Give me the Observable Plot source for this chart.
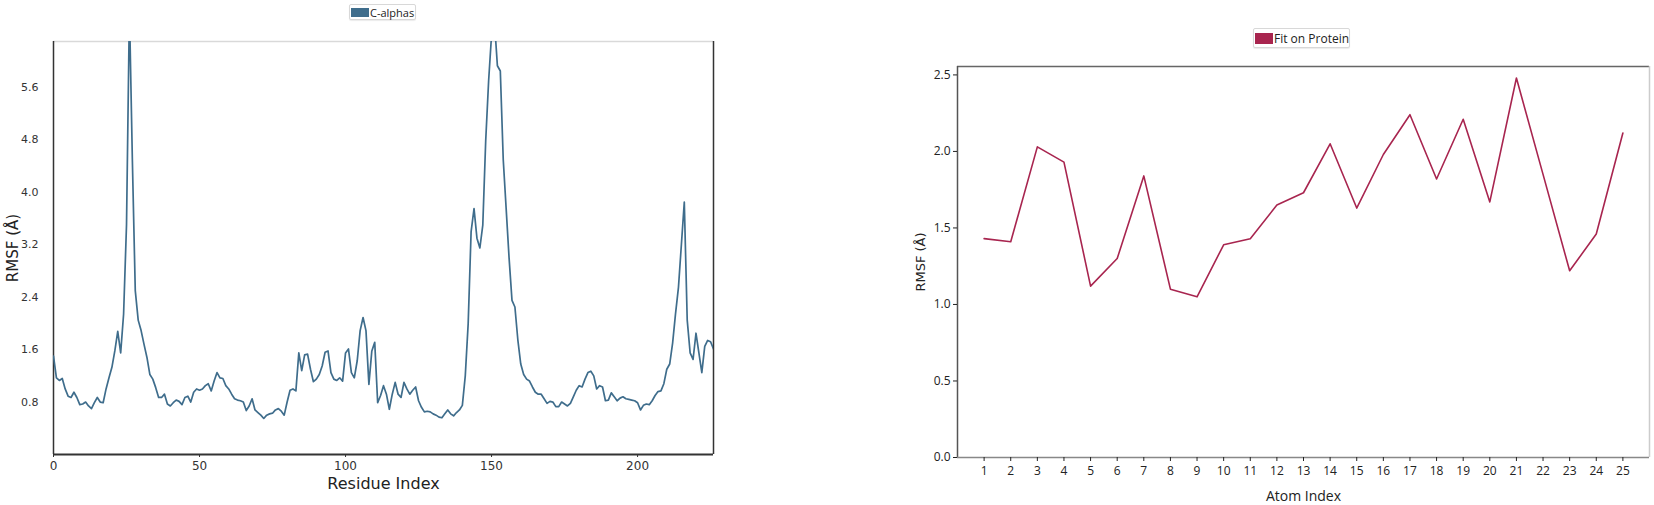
<!DOCTYPE html>
<html>
<head>
<meta charset="utf-8">
<script src="https://cdn.jsdelivr.net/npm/d3@7"></script>
<script src="https://cdn.jsdelivr.net/npm/@observablehq/plot@0.6"></script>
<style>
  html, body { margin: 0; padding: 0; background: #fff; }
  body { width: 1654px; height: 505px; position: relative; overflow: hidden; font-family: "Open Sans", sans-serif; }
  .panel { position: absolute; top: 0; }
  .legendRow { position: relative; }
  .legend { position: absolute; display: flex; align-items: center; white-space: nowrap; border: 1px solid #d8d8d8; border-radius: 2px; box-shadow: 0 1px 1px rgba(0,0,0,0.08); background: #fff; color: #222; box-sizing: border-box; }
  .swatch { display: inline-block; flex: none; }
</style>
</head>
<body>
<div id="left" class="panel" style="left:0px;width:730px;"></div>
<div id="right" class="panel" style="left:850px;width:804px;"></div>
<script>
// ---------- Left chart: C-alpha RMSF per residue ----------
const residueIndex = d3.range(0, 227);
const calphaRmsf = [
  1.50, 1.17, 1.13, 1.16, 1.00, 0.89, 0.87, 0.95, 0.87, 0.76,
  0.77, 0.80, 0.74, 0.70, 0.79, 0.87, 0.80, 0.79, 1.00, 1.17,
  1.33, 1.58, 1.88, 1.55, 2.14, 3.50, 6.80, 4.50, 2.50, 2.05,
  1.89, 1.68, 1.48, 1.22, 1.15, 1.02, 0.87, 0.87, 0.92, 0.77,
  0.74, 0.79, 0.83, 0.81, 0.76, 0.87, 0.89, 0.80, 0.95, 1.00,
  0.98, 1.00, 1.05, 1.08, 0.97, 1.12, 1.25, 1.17, 1.16, 1.05,
  1.00, 0.92, 0.85, 0.83, 0.82, 0.80, 0.67, 0.74, 0.85, 0.68,
  0.64, 0.60, 0.55, 0.60, 0.62, 0.63, 0.68, 0.70, 0.66, 0.60,
  0.80, 0.98, 1.00, 0.97, 1.55, 1.28, 1.52, 1.53, 1.30, 1.11,
  1.15, 1.22, 1.35, 1.56, 1.58, 1.25, 1.15, 1.13, 1.17, 1.12,
  1.55, 1.61, 1.25, 1.17, 1.43, 1.89, 2.09, 1.89, 1.07, 1.58,
  1.71, 0.79, 0.90, 1.05, 0.92, 0.69, 0.92, 1.10, 0.92, 0.87,
  1.10, 1.00, 0.92, 0.98, 1.03, 0.82, 0.72, 0.65, 0.66, 0.65,
  0.62, 0.60, 0.57, 0.56, 0.62, 0.68, 0.62, 0.59, 0.64, 0.68,
  0.75, 1.20, 2.00, 3.40, 3.75, 3.30, 3.15, 3.50, 4.79, 5.70,
  6.40, 6.60, 5.93, 5.85, 4.50, 3.75, 3.00, 2.35, 2.25, 1.75,
  1.38, 1.22, 1.15, 1.12, 1.03, 0.95, 0.92, 0.92, 0.85, 0.78,
  0.81, 0.80, 0.73, 0.73, 0.80, 0.77, 0.74, 0.78, 0.88, 0.98,
  1.05, 1.03, 1.15, 1.25, 1.27, 1.20, 1.00, 1.05, 1.03, 0.82,
  0.83, 0.94, 0.88, 0.82, 0.86, 0.88, 0.85, 0.84, 0.83, 0.82,
  0.79, 0.68, 0.75, 0.77, 0.76, 0.82, 0.90, 0.96, 0.97, 1.08,
  1.30, 1.38, 1.70, 2.15, 2.55, 3.20, 3.85, 2.05, 1.55, 1.45,
  1.85, 1.55, 1.25, 1.65, 1.74, 1.72, 1.61
];
const leftXDomain = [0, 226];
const leftYDomain = [0, 6.3];
const leftXTicks = [0, 50, 100, 150, 200];
const leftYTicks = [0.8, 1.6, 2.4, 3.2, 4.0, 4.8, 5.6];
const leftLegendLabel = "C-alphas";
const leftXLabel = "Residue Index";
const leftYLabel = "RMSF (Å)";
const leftColor = "#3f6d8c";

// ---------- Right chart: ligand atom RMSF ----------
const atomIndex = d3.range(1, 26);
const atomRmsf = [
  1.43, 1.41, 2.03, 1.93, 1.12, 1.30, 1.84, 1.10, 1.05, 1.39,
  1.43, 1.65, 1.73, 2.05, 1.63, 1.98, 2.24, 1.82, 2.21, 1.67,
  2.48, 1.85, 1.22, 1.46, 2.12
];
const rightXDomain = [0, 26];
const rightYDomain = [0, 2.555];
const rightXTicks = d3.range(1, 26);
const rightYTicks = [0, 0.5, 1.0, 1.5, 2.0, 2.5];
const rightLegendLabel = "Fit on Protein";
const rightXLabel = "Atom Index";
const rightYLabel = "RMSF (Å)";
const rightColor = "#a8254f";

// ---------- Build left ----------
const leftData = residueIndex.map((r, i) => ({res: r, rmsf: calphaRmsf[i]}));
const leftEl = document.getElementById("left");
const lRow = document.createElement("div");
lRow.className = "legendRow";
lRow.style.height = "22px";
lRow.innerHTML = `<div class="legend" style="left:349px;top:4px;width:67px;height:16px;font-size:11px;font-family:'Open Sans',sans-serif;">
  <span class="swatch" style="width:18px;height:9px;background:${leftColor};margin-left:1px;margin-right:1px;"></span><span>${leftLegendLabel}</span></div>`;
leftEl.appendChild(lRow);

const leftPlot = Plot.plot({
  width: 730,
  height: 483,
  marginLeft: 53,
  marginRight: 17,
  marginTop: 19,
  marginBottom: 51,
  style: {fontFamily: "'DejaVu Sans', sans-serif", fontSize: "11px", color: "#333", background: "#fff"},
  x: {domain: leftXDomain},
  y: {domain: leftYDomain},
  marks: [
    Plot.ruleY([leftYDomain[1]], {stroke: "#d9d9d9", strokeWidth: 1.5}),
    Plot.ruleX([leftXDomain[1]], {stroke: "#333", strokeWidth: 1.5}),
    Plot.ruleX([leftXDomain[0]], {stroke: "#333", strokeWidth: 1.5}),
    Plot.ruleY([leftYDomain[0]], {stroke: "#333", strokeWidth: 2}),
    Plot.line(leftData, {x: "res", y: "rmsf", stroke: leftColor, strokeWidth: 1.7, clip: true}),
    Plot.axisX({ticks: leftXTicks, tickSize: 3, tickPadding: 4, fontSize: 12, fill: "#333", label: null}),
    Plot.axisY({ticks: leftYTicks, tickFormat: d3.format(".1f"), tickSize: 0, tickPadding: 15, fontSize: 11, fill: "#333", label: null}),
    Plot.text([leftXLabel], {frameAnchor: "bottom", lineAnchor: "middle", dy: 29, fontSize: 16, fill: "#222"}),
    Plot.text([leftYLabel], {frameAnchor: "left", textAnchor: "middle", lineAnchor: "middle", rotate: -90, dx: -40, fontSize: 15, fill: "#222"})
  ]
});
leftEl.appendChild(leftPlot);

// ---------- Build right ----------
const rightData = atomIndex.map((a, i) => ({atom: a, rmsf: atomRmsf[i]}));
const rightEl = document.getElementById("right");
const rRow = document.createElement("div");
rRow.className = "legendRow";
rRow.style.height = "50px";
rRow.innerHTML = `<div class="legend" style="left:403px;top:28px;width:97px;height:20px;font-size:12px;font-family:'Open Sans',sans-serif;">
  <span class="swatch" style="width:18px;height:11px;background:${rightColor};margin-left:1px;margin-right:1px;"></span><span>${rightLegendLabel}</span></div>`;
rightEl.appendChild(rRow);

const rightPlot = Plot.plot({
  width: 804,
  height: 455,
  marginLeft: 107,
  marginRight: 5,
  marginTop: 16,
  marginBottom: 48,
  style: {fontFamily: "'Open Sans', sans-serif", fontSize: "12px", color: "#222", background: "#fff"},
  x: {domain: rightXDomain},
  y: {domain: rightYDomain},
  marks: [
    Plot.ruleY([rightYDomain[1]], {stroke: "#666", strokeWidth: 1.5}),
    Plot.ruleX([rightXDomain[1]], {stroke: "#ccc", strokeWidth: 1.5}),
    Plot.ruleX([rightXDomain[0]], {stroke: "#555", strokeWidth: 1.5}),
    Plot.ruleY([rightYDomain[0]], {stroke: "#888", strokeWidth: 1.5}),
    Plot.line(rightData, {x: "atom", y: "rmsf", stroke: rightColor, strokeWidth: 1.6}),
    Plot.axisX({ticks: rightXTicks, tickSize: 4, tickPadding: 5, fontSize: 12, fill: "#222", label: null}),
    Plot.axisY({ticks: rightYTicks, tickFormat: d3.format(".1f"), tickSize: 4, tickPadding: 3, fontSize: 12, fill: "#222", label: null}),
    Plot.text([rightXLabel], {frameAnchor: "bottom", lineAnchor: "middle", dy: 39, fontSize: 14, fill: "#222"}),
    Plot.text([rightYLabel], {frameAnchor: "left", textAnchor: "middle", lineAnchor: "middle", rotate: -90, dx: -37, fontSize: 13, fill: "#222", fontFamily: "'DejaVu Sans', sans-serif"})
  ]
});
rightEl.appendChild(rightPlot);
</script>
</body>
</html>
